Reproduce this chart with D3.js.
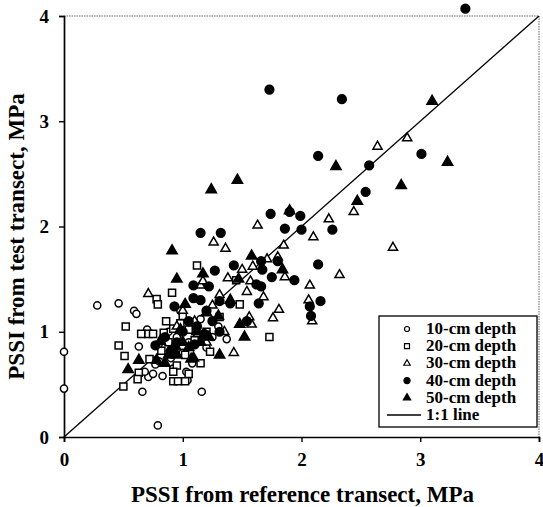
<!DOCTYPE html>
<html><head><meta charset="utf-8">
<script src="https://cdn.jsdelivr.net/npm/d3@7"></script>
<style>body{margin:0;background:#fff}svg{display:block}</style>
</head><body>
<svg id="chart" width="543" height="507"></svg>
<script>
const xTicks = [0, 1, 2, 3, 4];
const yTicks = [0, 1, 2, 3, 4];
const xTitle = "PSSI from reference transect, MPa";
const yTitle = "PSSI from test transect, MPa";
const seriesNames = ["10-cm depth", "20-cm depth", "30-cm depth", "40-cm depth", "50-cm depth"];
const lineName = "1:1 line";

const depth10 = [[0,0.81],[0,0.46],[0.28,1.25],[0.46,1.27],[0.59,1.2],[0.61,1.17],[0.63,0.86],[0.66,0.43],[0.79,0.11],[0.71,0.57],[0.83,0.58],[0.77,0.69],[1.04,0.54],[1.16,0.43],[1.37,0.93],[1.03,0.62],[0.9,0.75],[0.95,0.95],[1.05,0.9],[1.1,1.05],[0.85,0.85],[1.2,0.85],[0.75,0.6],[0.68,0.62],[1.15,1.12],[0.98,1.2],[1.25,0.95],[0.88,1.0],[1.0,0.8],[1.08,0.7],[0.92,0.65],[1.12,0.98],[0.8,0.72],[1.3,1.05],[0.7,1.02]];
const depth20 = [[0.91,1.37],[0.78,1.31],[0.79,1.26],[0.52,1.05],[0.46,0.87],[0.51,0.77],[0.5,0.48],[0.63,0.61],[0.62,0.55],[0.71,0.98],[0.75,0.98],[0.86,1.1],[0.92,1.03],[0.84,0.99],[0.72,0.74],[0.92,0.53],[0.96,0.53],[0.95,0.68],[0.92,0.62],[1.05,0.6],[1.02,0.53],[1.12,1.63],[1.73,0.95],[1.23,0.81],[1.15,0.70],[1.48,1.26],[1.31,1.14],[1.45,1.49],[0.98,1.08],[1.05,1.02],[0.88,0.9],[1.0,1.15],[1.1,0.92],[0.82,0.82],[0.65,0.98],[1.2,1.0],[1.02,0.78]];
const depth30 = [[2.64,2.76],[2.89,2.84],[2.23,2.07],[2.44,2.14],[2.1,1.9],[2.77,1.8],[2.32,1.54],[2.07,1.44],[2.06,1.3],[2.09,1.1],[1.63,2.01],[1.26,1.85],[1.36,1.79],[1.85,1.82],[1.5,1.59],[1.8,1.71],[1.71,1.69],[1.86,1.52],[1.38,1.51],[1.57,1.48],[1.54,1.38],[1.68,1.33],[1.81,1.21],[1.76,1.13],[1.58,1.07],[1.43,0.8],[1.15,1.44],[1.17,1.48],[1.31,1.35],[0.71,1.36],[1.59,1.62],[1.56,1.14],[1.0,1.2],[1.1,1.1],[1.25,1.25],[0.95,1.05],[1.2,0.9],[1.35,1.0]];
const depth40 = [[3.38,4.07],[2.34,3.21],[1.73,3.3],[2.14,2.67],[2.57,2.58],[3.01,2.69],[2.54,2.33],[1.99,2.1],[2.0,1.97],[2.26,1.97],[2.14,1.64],[2.16,1.29],[2.07,1.24],[2.08,1.15],[1.74,2.12],[1.9,2.14],[1.86,1.98],[1.15,1.94],[1.32,1.94],[1.43,1.63],[1.27,1.58],[1.66,1.67],[1.67,1.59],[1.8,1.67],[1.75,1.52],[1.94,1.49],[1.62,1.45],[1.66,1.43],[1.15,1.3],[1.09,1.44],[1.22,1.43],[1.64,1.27],[1.54,1.1],[1.4,1.27],[1.31,1.29],[0.93,1.24],[1.31,1.0],[0.77,0.87],[1.09,1.32],[1.0,1.0],[0.95,0.9],[1.05,1.1],[1.2,1.2],[0.85,0.95],[1.12,1.05],[1.25,1.1],[0.9,0.82],[1.1,0.88],[1.18,0.98]];
const depth50 = [[3.1,3.19],[2.29,2.57],[3.23,2.61],[2.84,2.39],[2.47,2.24],[1.24,2.35],[1.46,2.44],[0.91,1.77],[0.95,1.5],[1.58,1.72],[1.9,2.15],[1.84,1.59],[1.47,1.5],[1.17,1.55],[1.02,1.26],[1.31,0.78],[1.52,0.95],[1.48,1.07],[0.54,0.64],[0.63,0.73],[1.09,0.75],[0.78,0.73],[0.94,0.86],[0.81,0.91],[0.91,0.83],[0.98,1.02],[1.07,0.74],[1.2,1.18],[1.12,1.0],[0.88,0.78],[1.3,1.15],[1.4,1.3],[1.0,0.9],[0.85,0.7],[1.05,0.85],[1.15,0.9],[0.95,0.78],[1.22,0.95]];
const lineData = [[0,0],[4,4]];

(function () {
const svg = d3.select("#chart");
const pL = 64, pR = 539, pT = 16, pB = 437;
const x = d3.scaleLinear().domain([0, 4]).range([pL, pR]);
const y = d3.scaleLinear().domain([0, 4]).range([pB, pT]);
const font = "'Liberation Serif','Times New Roman',serif";

// dotted top/right frame
svg.append("path")
  .attr("d", `M${pL},${pT}H${pR}V${pB}`)
  .attr("fill", "none").attr("stroke", "#666").attr("stroke-width", 1)
  .attr("stroke-dasharray", "1.5,1");

// axes
const xAxis = svg.append("g").attr("transform", `translate(0,${pB})`)
  .call(d3.axisBottom(x).tickValues(xTicks).tickFormat(d3.format("d")).tickSize(5).tickPadding(11));
const yAxis = svg.append("g").attr("transform", `translate(${pL},0)`)
  .call(d3.axisLeft(y).tickValues(yTicks).tickFormat(d3.format("d")).tickSize(5).tickPadding(10));
[xAxis, yAxis].forEach(g => {
  g.select(".domain").attr("stroke", "#000").attr("stroke-width", 1.7);
  g.selectAll(".tick line").attr("stroke", "#000").attr("stroke-width", 1.4);
  g.selectAll(".tick text").attr("font-family", font).attr("font-weight", "bold")
    .attr("font-size", 19).attr("fill", "#000");
});

// 1:1 line
svg.append("path").datum(lineData)
  .attr("d", d3.line().x(d => x(d[0])).y(d => y(d[1])))
  .attr("fill", "none").attr("stroke", "#000").attr("stroke-width", 1.3);

const styles = [
  {type: d3.symbolCircle, size: 40, fill: "#fff", stroke: "#000"},
  {type: d3.symbolSquare, size: 50, fill: "#fff", stroke: "#000"},
  {type: d3.symbolTriangle, size: 36, fill: "#fff", stroke: "#000"},
  {type: d3.symbolCircle, size: 60, fill: "#000", stroke: "#000"},
  {type: d3.symbolTriangle, size: 46, fill: "#000", stroke: "#000"}
];
const allSeries = [depth10, depth20, depth30, depth40, depth50];

allSeries.forEach((data, i) => {
  const st = styles[i];
  svg.append("g").selectAll("path").data(data).join("path")
    .attr("transform", d => `translate(${x(d[0])},${y(d[1])})`)
    .attr("d", d3.symbol().type(st.type).size(st.size))
    .attr("fill", st.fill).attr("stroke", st.stroke).attr("stroke-width", 1.5);
});

// titles
svg.append("text").attr("x", (pL + pR) / 2 + 1).attr("y", 502)
  .attr("text-anchor", "middle").attr("font-family", font).attr("font-weight", "bold")
  .attr("font-size", 23).text(xTitle);
svg.append("text").attr("transform", `translate(24,${(pT + pB) / 2 + 10}) rotate(-90)`)
  .attr("text-anchor", "middle").attr("font-family", font).attr("font-weight", "bold")
  .attr("font-size", 23).text(yTitle);

// legend
const lg = svg.append("g");
lg.append("rect").attr("x", 379).attr("y", 316).attr("width", 158).attr("height", 111)
  .attr("fill", "#fff").attr("stroke", "#000").attr("stroke-width", 1.3);
const rowY = i => 329 + i * 17.2;
seriesNames.forEach((name, i) => {
  const st = styles[i];
  lg.append("path").attr("transform", `translate(407,${rowY(i)})`)
    .attr("d", d3.symbol().type(st.type).size(st.size * 0.5))
    .attr("fill", st.fill).attr("stroke", st.stroke).attr("stroke-width", 1.2);
  lg.append("text").attr("x", 426).attr("y", rowY(i) + 5)
    .attr("font-family", font).attr("font-weight", "bold").attr("font-size", 17).text(name);
});
lg.append("line").attr("x1", 387).attr("x2", 421).attr("y1", rowY(5)).attr("y2", rowY(5))
  .attr("stroke", "#000").attr("stroke-width", 1.3);
lg.append("text").attr("x", 426).attr("y", rowY(5) + 5)
  .attr("font-family", font).attr("font-weight", "bold").attr("font-size", 17).text(lineName);
})();
</script>
</body></html>
